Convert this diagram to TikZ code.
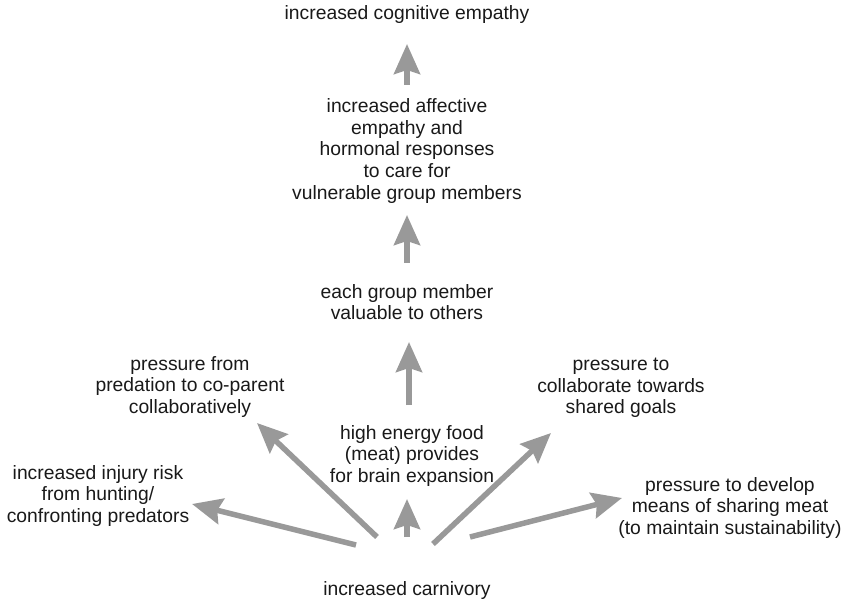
\documentclass[tikz,border=0pt]{standalone}
\usepackage{fontspec}
\setmainfont{Liberation Sans}
\usetikzlibrary{arrows.meta}
\begin{document}
\begin{tikzpicture}[x=1pt,y=-1pt,
  label/.style={align=center,inner sep=0pt,font=\fontsize{19.3}{21.6}\selectfont,text=black!90},
  push/.style={draw=black!40,line width=5.5pt,-{Stealth[length=30pt,width=26pt,inset=4pt]}}]
\useasboundingbox (0,0) rectangle (844,604);
% text blocks
\node[label] (cogn) at (407,15) {increased cognitive empathy};
\node[label] (aff) at (407,151) {increased affective\\empathy and\\hormonal responses\\to care for\\vulnerable group members};
\node[label] (each) at (407,302) {each group member\\valuable to others};
\node[label] (food) at (412,456) {high energy food\\(meat) provides\\for brain expansion};
\node[label] (carn) at (407,591) {increased carnivory};
\node[label] (copar) at (190,387) {pressure from\\predation to co-parent\\collaboratively};
\node[label] (injury) at (98,496) {increased injury risk\\from hunting/\\confronting predators};
\node[label] (collab) at (621,388) {pressure to\\collaborate towards\\shared goals};
\node[label] (share) at (730,508) {pressure to develop\\means of sharing meat\\(to maintain sustainability)};
% arrow end points
\coordinate (a1s) at (407,85);  \coordinate (a1e) at (407,44);
\coordinate (a2s) at (407,263); \coordinate (a2e) at (407,215);
\coordinate (a3s) at (409,405); \coordinate (a3e) at (409,342);
\coordinate (a4s) at (407,537); \coordinate (a4e) at (407,499);
\coordinate (a5s) at (356,545); \coordinate (a5e) at (192,504);
\coordinate (a6s) at (377,537); \coordinate (a6e) at (257,423);
\coordinate (a7s) at (433,544); \coordinate (a7e) at (551,433);
\coordinate (a8s) at (470,537); \coordinate (a8e) at (622,498);
% arrows
\foreach \i in {1,...,8} \draw[push] (a\i s) -- (a\i e);
\end{tikzpicture}
\end{document}
